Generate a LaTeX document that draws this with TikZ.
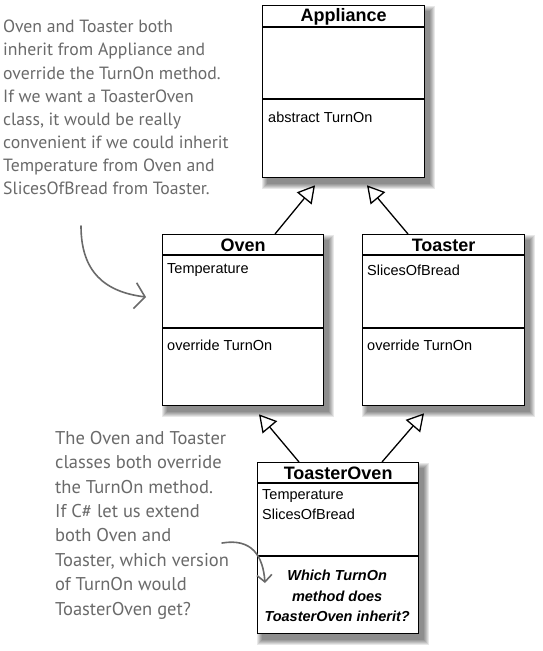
\documentclass[tikz,border=0pt]{standalone}
\usepackage{fontspec}
\setmainfont{Liberation Sans}
\newfontfamily\handfont{PT Sans}
\usetikzlibrary{arrows.meta,calc}
\definecolor{handgray}{HTML}{6A6A6A}
\pgfdeclarelayer{bg}
\pgfdeclarelayer{paper}
\pgfsetlayers{paper,bg,main}
\newcommand\boxshadow[1]{%
  \foreach \k in {0,1,...,5}{%
    \fill[black,opacity=0.09] ($(#1.north west)+(5-\k,6-\k)$) rectangle ($(#1.south east)+(5+\k,6+\k)$);
  }}
\begin{document}
\begin{tikzpicture}[x=1pt,y=-1pt,
  umlbox/.style={draw=black,line width=1.3pt,fill=white,rectangle,minimum width=161pt,minimum height=171pt,inner sep=0pt,anchor=north west},
  sepline/.style={draw=black,line width=1.1pt},
  titletext/.style={font=\fontsize{18}{20}\selectfont\bfseries,inner sep=0pt},
  bodytext/.style={font=\fontsize{14.5}{20}\selectfont,inner sep=0pt,anchor=west,align=left},
  asktext/.style={font=\fontsize{14.5}{20.7}\selectfont\bfseries\itshape,inner sep=0pt,align=center},
  inh/.style={line width=1.3pt,-{Triangle[open,length=17pt,width=19pt,line width=1.3pt]}},
  handnote/.style={text=handgray,inner sep=0pt,anchor=north west,align=left},
  handarrow/.style={draw=handgray,line width=1.6pt,line cap=round}
]
\begin{pgfonlayer}{paper}
\fill[white] (0,0) rectangle (542,651);
\end{pgfonlayer}
\useasboundingbox (0,0) rectangle (542,651);

% class boxes
\node[umlbox,minimum width=162pt,minimum height=172pt] (app) at (262,5) {};
\node[umlbox] (oven) at (162,234) {};
\node[umlbox,minimum width=162pt] (toaster) at (362,234) {};
\node[umlbox] (toven) at (257,462) {};

\begin{pgfonlayer}{bg}
  \boxshadow{app}
  \boxshadow{oven}
  \boxshadow{toaster}
  \boxshadow{toven}
\end{pgfonlayer}

% separators
\draw[sepline] ($(app.north west)+(0,22)$) -- ($(app.north east)+(0,22)$);
\draw[sepline] ($(app.north west)+(0,94)$) -- ($(app.north east)+(0,94)$);
\draw[sepline] ($(oven.north west)+(0,21)$) -- ($(oven.north east)+(0,21)$);
\draw[sepline] ($(oven.north west)+(0,94)$) -- ($(oven.north east)+(0,94)$);
\draw[sepline] ($(toaster.north west)+(0,21)$) -- ($(toaster.north east)+(0,21)$);
\draw[sepline] ($(toaster.north west)+(0,94)$) -- ($(toaster.north east)+(0,94)$);
\draw[sepline] ($(toven.north west)+(0,21)$) -- ($(toven.north east)+(0,21)$);
\draw[sepline] ($(toven.north west)+(0,94)$) -- ($(toven.north east)+(0,94)$);

% titles
\node[titletext] (appT) at ($(app.north)+(0,12)$) {Appliance};
\node[titletext] (ovenT) at ($(oven.north)+(0,11)$) {Oven};
\node[titletext] (toasterT) at ($(toaster.north)+(0,11)$) {Toaster};
\node[titletext] (tovenT) at ($(toven.north)+(0,11)$) {ToasterOven};

% members
\node[bodytext] (appM) at ($(app.north west)+(6,112)$) {abstract TurnOn};
\node[bodytext] (ovenA) at ($(oven.north west)+(5,36)$) {Temperature};
\node[bodytext] (ovenM) at ($(oven.north west)+(5,111)$) {override TurnOn};
\node[bodytext] (toasterA) at ($(toaster.north west)+(5,36)$) {SlicesOfBread};
\node[bodytext] (toasterM) at ($(toaster.north west)+(5,111)$) {override TurnOn};
\node[bodytext] (tovenA) at ($(toven.north west)+(5,43)$) {Temperature\\SlicesOfBread};
\node[asktext] (tovenM) at ($(toven.north)+(-1,134)$) {Which TurnOn\\method does\\ToasterOven inherit?};

% inheritance
\draw[inh] ($(oven.north west)+(113,0)$) -- ($(app.south west)+(53,7)$);
\draw[inh] ($(toaster.north west)+(46,0)$) -- ($(app.south west)+(105,7)$);
\draw[inh] ($(toven.north west)+(42,0)$) -- ($(oven.south west)+(97,8)$);
\draw[inh] ($(toven.north west)+(125,0)$) -- ($(toaster.south west)+(62,7)$);

% notes
\node[handnote,font=\handfont\fontsize{17.7}{23.1}\selectfont] (note1) at (3,20) {Oven and Toaster both\\inherit from Appliance and\\override the TurnOn method.\\If we want a ToasterOven\\class, it would be really\\convenient if we could inherit\\Temperature from Oven and\\SlicesOfBread from Toaster.};
\node[handnote,font=\handfont\fontsize{18.5}{24.4}\selectfont] (note2) at (55,431) {The Oven and Toaster\\classes both override\\the TurnOn method.\\If C\# let us extend\\both Oven and\\Toaster, which version\\of TurnOn would\\ToasterOven get?};

\coordinate (n1s) at (81,226);
\coordinate (n2s) at (222,543);
\draw[handarrow,-{Straight Barb[length=10pt,width=26pt,line width=1.6pt]}] (n1s) .. controls (81,272) and (105,292) .. ($(oven.north west)+(-16,63)$);
\draw[handarrow,-{Straight Barb[length=7pt,width=15pt,line width=1.6pt]}] (n2s) .. controls (252,538) and (263,556) .. ($(toven.north west)+(8,121)$);
\end{tikzpicture}
\end{document}
